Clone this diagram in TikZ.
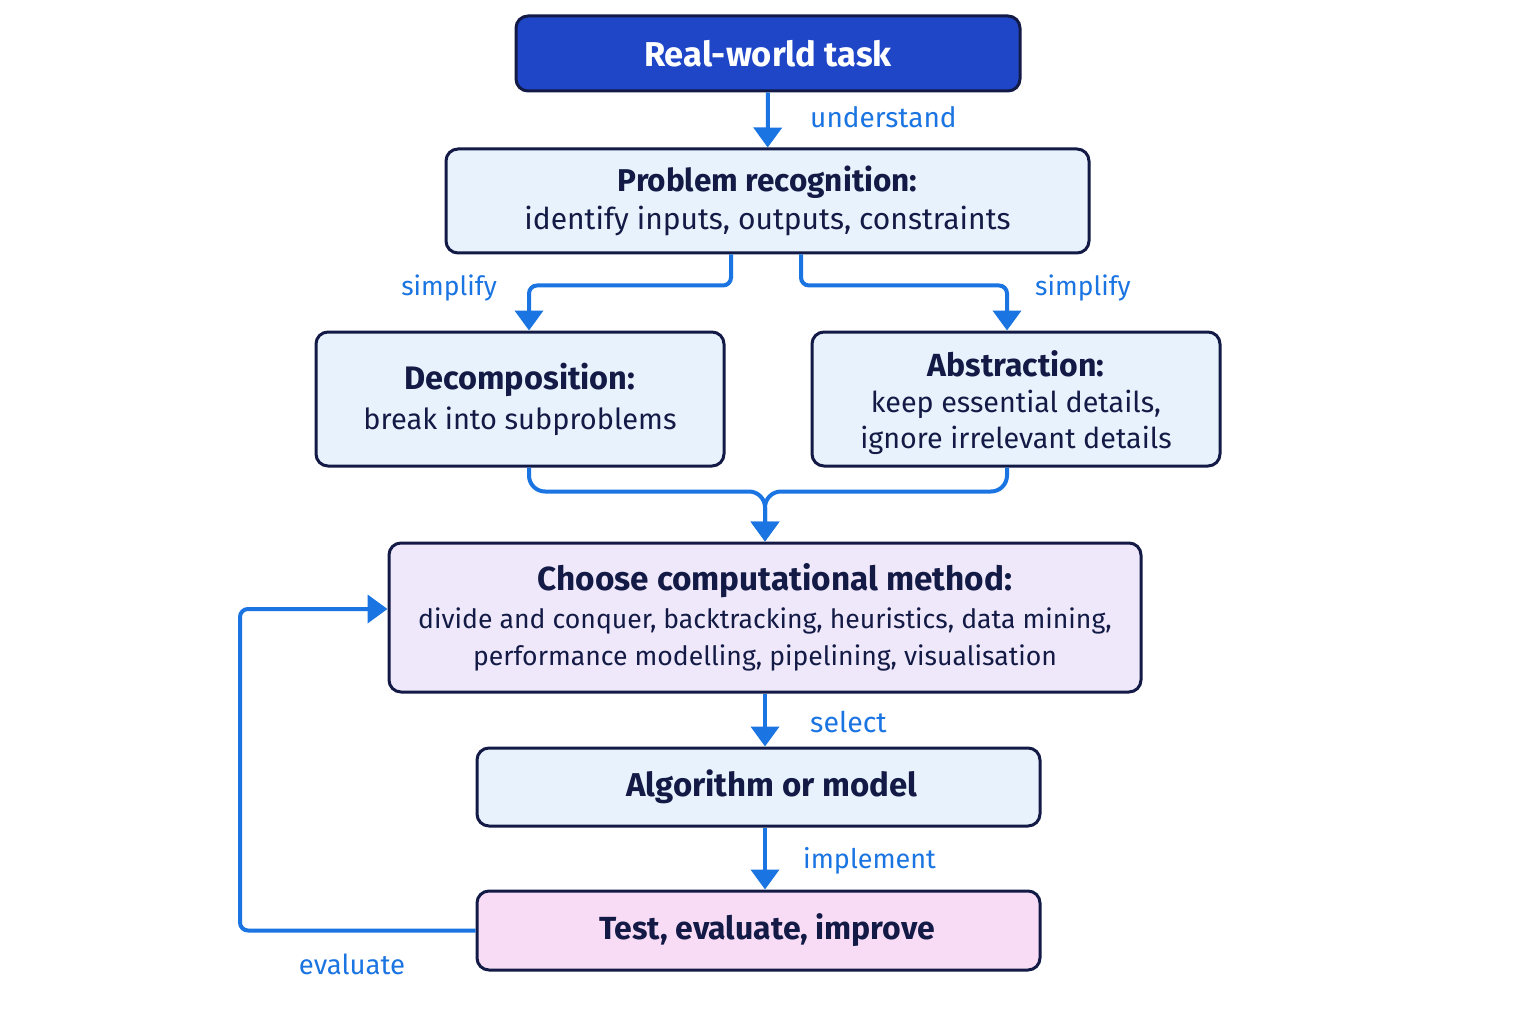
\documentclass[tikz,border=0pt]{standalone}
\usepackage{fontspec}
\setmainfont{Fira Sans}
\usetikzlibrary{arrows.meta,calc}
\definecolor{navy}{HTML}{121A45}
\definecolor{topblue}{HTML}{1E46C6}
\definecolor{lightblue}{HTML}{E7F2FC}
\definecolor{lavender}{HTML}{EFE8FA}
\definecolor{pinkfill}{HTML}{F8DCF6}
\definecolor{arrblue}{HTML}{1A74E2}
\newcommand{\fsz}[2]{\fontsize{#1}{#2}\selectfont}
\begin{document}
\begin{tikzpicture}[x=1pt,y=-1pt,
  box/.style={draw=navy,line width=3pt,rounded corners=12pt,align=center,text=navy,
    inner sep=0pt},
  conn/.style={draw=arrblue,line width=4pt,rounded corners=8pt},
  arr/.style={conn,-{Triangle[length=20pt,width=28pt]}},
  lbl/.style={text=arrblue,inner sep=0pt}]
\useasboundingbox[fill=white] (0,0) rectangle (1536,1024);

\node[box,fill=topblue,text=white,minimum width=504pt,minimum height=75pt,
  font=\fsz{34.5}{40}\bfseries] (rw) at (768,53.5) {Real-world task};
\node[box,fill=lightblue,minimum width=643pt,minimum height=104pt,font=\fsz{30}{38}] (pr) at (767.5,201)
  {{\fsz{31.5}{38}\bfseries Problem recognition:}\\identify inputs, outputs, constraints};
\node[box,fill=lightblue,minimum width=408pt,minimum height=134pt,font=\fsz{29}{40}] (dec) at (520,399)
  {{\fsz{32.5}{40}\bfseries Decomposition:}\\break into subproblems};
\node[box,fill=lightblue,minimum width=408pt,minimum height=134pt,font=\fsz{28.7}{36}] (abs) at (1016,399)
  {{\fsz{32}{36}\bfseries\rule{0pt}{33pt}Abstraction:}\\keep essential details,\\ignore irrelevant details};
\node[box,fill=lavender,minimum width=752pt,minimum height=149pt,font=\fsz{26.6}{37.5}] (cho) at (765,617.5)
  {{\fsz{33.3}{37.5}\bfseries\hspace*{20pt}Choose computational method:}\\divide and conquer, backtracking, heuristics, data mining,\\performance modelling, pipelining, visualisation};
\node[box,fill=lightblue,minimum width=563pt,minimum height=78pt,
  font=\fsz{33}{38}\bfseries] (alg) at (758.5,787) {\hspace*{27pt}Algorithm or model};
\node[box,fill=pinkfill,minimum width=563pt,minimum height=79pt,
  font=\fsz{32}{38}\bfseries] (tst) at (758.5,930.5) {\hspace*{17pt}Test, evaluate, improve};

% connectors
\draw[arr] (rw) -- (pr);
\draw[arr] ([xshift=-36.5pt]pr.south) |- ($([xshift=9pt]dec.north)+(0,-45)$) -- ([xshift=9pt]dec.north);
\draw[arr] ([xshift=33.5pt]pr.south) |- ($([xshift=-9pt]abs.north)+(0,-45)$) -- ([xshift=-9pt]abs.north);
\draw[arr,rounded corners=16pt] ([xshift=9pt]dec.south) |- ($(cho.north)+(0,-50)$) -- (cho.north);
\draw[arr,rounded corners=16pt] ([xshift=-9pt]abs.south) |- ($(cho.north)+(0,-50)$) -- (cho.north);
\draw[arr] (cho.south) -- (cho.south |- alg.north);
\draw[arr] (cho.south |- alg.south) -- (cho.south |- tst.north);
\coordinate (lp) at (240,770);
\coordinate (cin) at ([yshift=8.5pt]cho.west);
\draw[arr] (tst.west) -| (lp) |- (cin);

% labels
\node[lbl,anchor=west,font=\fsz{28}{32}] (l1) at (810,117) {understand};
\node[lbl,anchor=east,font=\fsz{26.5}{32}] (l2) at (497,288) {simplify};
\node[lbl,anchor=west,font=\fsz{26.5}{32}] (l3) at (1035,288) {simplify};
\node[lbl,anchor=west,font=\fsz{28.5}{32}] (l4) at (810,722) {select};
\node[lbl,anchor=west,font=\fsz{27}{32}] (l5) at (803,861) {implement};
\node[lbl,font=\fsz{27.5}{32}] (l6) at (352,964) {evaluate};
\end{tikzpicture}
\end{document}
